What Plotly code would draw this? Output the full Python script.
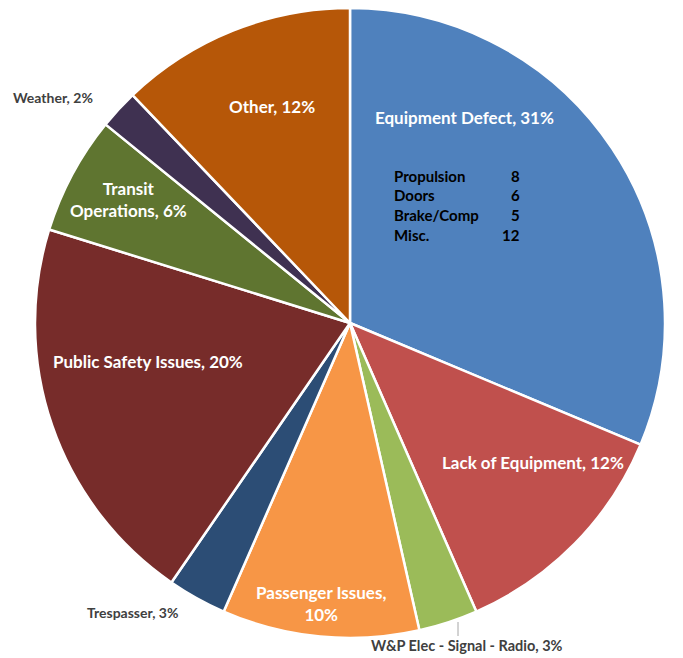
import plotly.graph_objects as go

categories = ["Equipment Defect", "Lack of Equipment", "W&P Elec - Signal - Radio",
              "Passenger Issues", "Trespasser", "Public Safety Issues",
              "Transit Operations", "Weather", "Other"]
percents = [31, 12, 3, 10, 3, 20, 6, 2, 12]
colors = ["#4F81BD", "#C0504D", "#9BBB59", "#F79646", "#2C4D75",
          "#772C2A", "#5F7530", "#3F3151", "#B65708"]

sub_labels = ["Propulsion", "Doors", "Brake/Comp", "Misc."]
sub_values = [8, 6, 5, 12]

# page body has an 8px margin; work in reference-pixel coords and offset
OFF = 8
W, H = 683 - OFF, 658 - OFF
FONT = "Lato"

def px(x):
    return min(1, max(0, (x - OFF) / W))

def py(y):
    return min(1, max(0, 1 - (y - OFF) / H))

fig = go.Figure(go.Pie(
    labels=categories, values=percents, sort=False, direction="clockwise",
    rotation=0, textinfo="none", hoverinfo="label+percent",
    marker=dict(colors=colors, line=dict(color="white", width=2.5)),
    domain=dict(x=[px(350 - 316), px(350 + 316)], y=[py(638), py(7)]),
    showlegend=False,
))

ann = []
def add(text, x, y, size=17, color="white", xanchor="center"):
    ann.append(dict(text=text, x=px(x), y=py(y), xref="paper", yref="paper",
                    showarrow=False, align="center", xanchor=xanchor, yanchor="middle",
                    font=dict(family=FONT, size=size, color=color, weight="bold")))

inside = {
    "Equipment Defect": ("Equipment Defect, 31%", 465, 117),
    "Lack of Equipment": ("Lack of Equipment, 12%", 533, 462),
    "Passenger Issues": ("Passenger Issues,<br>10%", 321, 603),
    "Public Safety Issues": ("Public Safety Issues, 20%", 148, 361),
    "Transit Operations": ("Transit<br>Operations, 6%", 128, 200),
    "Other": ("Other, 12%", 272, 106),
}
for k, (t, x, y) in inside.items():
    add(t, x, y)

add("Weather, 2%", 53, 98, size=14, color="#404040")
add("Trespasser, 3%", 132, 612, size=14, color="#404040")
add("W&P Elec - Signal - Radio, 3%", 467, 645, size=14.5, color="#404040")

for i, (lab, val) in enumerate(zip(sub_labels, sub_values)):
    yy = 176 + i * 19.5
    add(lab, 392, yy, size=15, color="black", xanchor="left")
    add(str(val), 522, yy, size=15, color="black", xanchor="right")

fig.update_layout(
    width=W, height=H, margin=dict(l=0, r=0, t=0, b=0),
    paper_bgcolor="white", plot_bgcolor="white",
    annotations=ann,
    shapes=[dict(type="line", xref="paper", yref="paper",
                 x0=px(458), x1=px(458), y0=py(622), y1=py(636),
                 line=dict(color="#A6A6A6", width=1))],
)

fig.write_html("out.html")
